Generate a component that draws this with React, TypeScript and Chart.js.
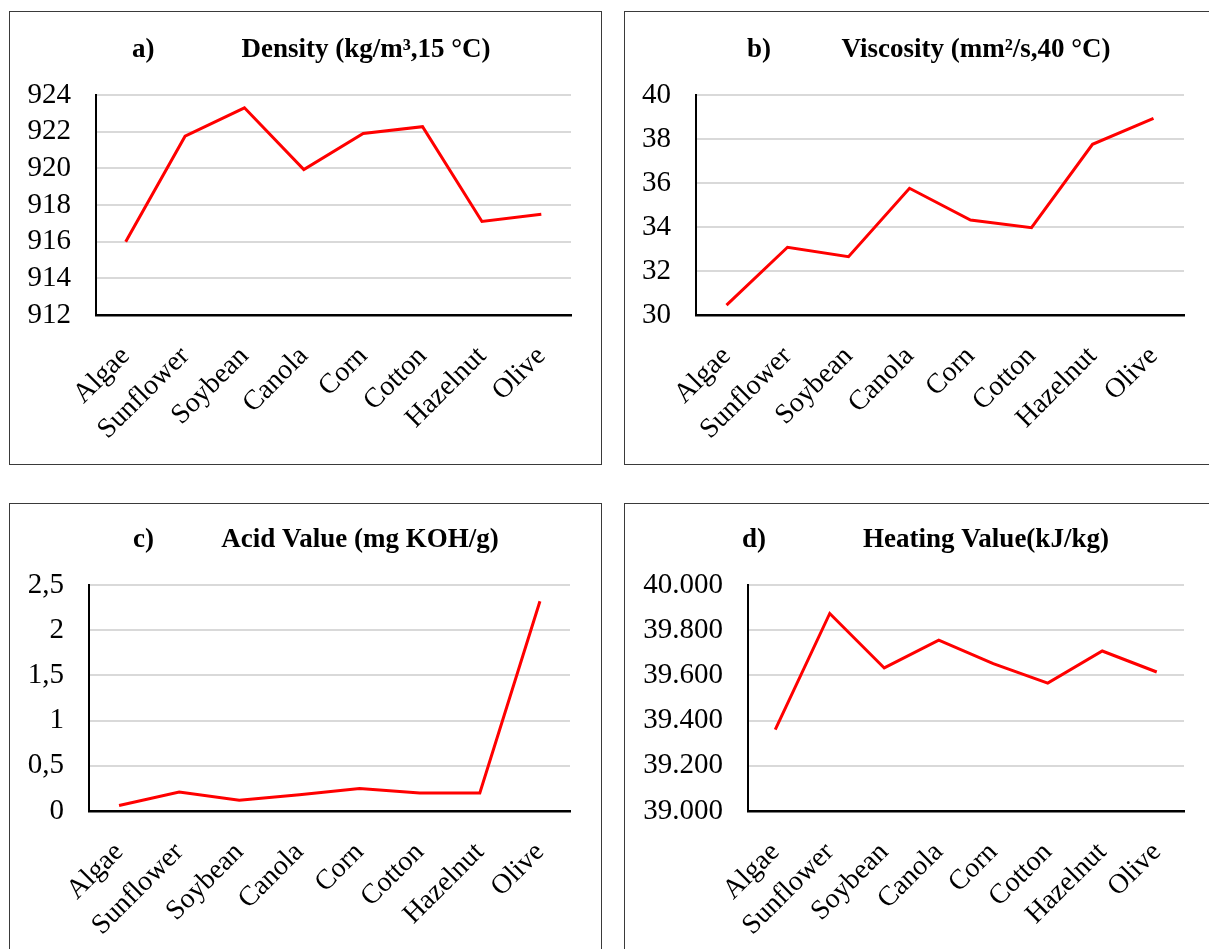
import React, { useEffect, useRef } from "react";
import { Chart, registerables } from "chart.js";

Chart.register(...registerables);

const categories = ["Algae", "Sunflower", "Soybean", "Canola", "Corn", "Cotton", "Hazelnut", "Olive"];
const densityValues = [916.0, 921.75, 923.3, 919.93, 921.9, 922.27, 917.1, 917.5];
const viscosityValues = [30.45, 33.08, 32.65, 35.76, 34.32, 33.97, 37.76, 38.94];
const acidValues = [0.06, 0.21, 0.12, 0.18, 0.25, 0.2, 0.2, 2.32];
const heatingValues = [39360, 39874, 39633, 39756, 39652, 39566, 39708, 39615];

const FONT = "'Liberation Serif', 'Times New Roman', serif";

const fmtInt = (v: number) => String(Math.round(v));
const fmtComma = (v: number) => String(Math.round(v * 10) / 10).replace(".", ",");
const fmtThousands = (v: number) => {
  const s = String(Math.round(v));
  return s.replace(/\B(?=(\d{3})+(?!\d))/g, ".");
};

type PanelDef = {
  letter: string;
  title: string;
  values: number[];
  min: number;
  max: number;
  step: number;
  fmt: (v: number) => string;
  box: { x: number; y: number; w: number; h: number };
  area: { l: number; r: number; t: number; b: number };
  letterX: number;
  titleX: number;
  titleY: number;
};

const panels: PanelDef[] = [
  {
    letter: "a)",
    title: "Density (kg/m³,15 °C)",
    values: densityValues,
    min: 912,
    max: 924,
    step: 2,
    fmt: fmtInt,
    box: { x: 9, y: 11, w: 593, h: 454 },
    area: { l: 96, r: 571, t: 95, b: 315 },
    letterX: 122,
    titleX: 356,
    titleY: 38,
  },
  {
    letter: "b)",
    title: "Viscosity (mm²/s,40 °C)",
    values: viscosityValues,
    min: 30,
    max: 40,
    step: 2,
    fmt: fmtInt,
    box: { x: 624, y: 11, w: 600, h: 454 },
    area: { l: 696, r: 1184, t: 95, b: 315 },
    letterX: 122,
    titleX: 351,
    titleY: 38,
  },
  {
    letter: "c)",
    title: "Acid Value (mg KOH/g)",
    values: acidValues,
    min: 0,
    max: 2.5,
    step: 0.5,
    fmt: fmtComma,
    box: { x: 9, y: 503, w: 593, h: 460 },
    area: { l: 89, r: 570, t: 585, b: 811 },
    letterX: 123,
    titleX: 350,
    titleY: 36,
  },
  {
    letter: "d)",
    title: "Heating Value(kJ/kg)",
    values: heatingValues,
    min: 39000,
    max: 40000,
    step: 200,
    fmt: fmtThousands,
    box: { x: 624, y: 503, w: 600, h: 460 },
    area: { l: 748, r: 1184, t: 585, b: 811 },
    letterX: 117,
    titleX: 361,
    titleY: 36,
  },
];

function PanelChart({ p }: { p: PanelDef }) {
  const ref = useRef<HTMLCanvasElement | null>(null);
  const cw = p.box.w - 2;
  const ch = p.box.h - 2;
  const ox = p.box.x + 1;
  const oy = p.box.y + 1;

  useEffect(() => {
    if (!ref.current) return;
    const titlePlugin = {
      id: "panelTitle",
      afterDraw(chart: any) {
        const ctx = chart.ctx;
        ctx.save();
        ctx.fillStyle = "#000";
        ctx.font = `bold 27px ${FONT}`;
        ctx.textBaseline = "middle";
        ctx.textAlign = "left";
        ctx.fillText(p.letter, p.letterX, p.titleY);
        ctx.textAlign = "center";
        ctx.fillText(p.title, p.titleX, p.titleY);
        ctx.restore();
      },
    };
    const chart = new Chart(ref.current, {
      type: "line",
      data: {
        labels: categories,
        datasets: [
          {
            data: p.values,
            borderColor: "#FF0000",
            borderWidth: 3,
            pointRadius: 0,
            tension: 0,
            fill: false,
          },
        ],
      },
      options: {
        animation: false,
        responsive: false,
        devicePixelRatio: 1,
        layout: {
          padding: {
            left: 0,
            top: p.area.t - oy,
            right: cw - (p.area.r - ox),
            bottom: 0,
          },
        },
        plugins: {
          legend: { display: false },
          tooltip: { enabled: false },
          title: { display: false },
        },
        scales: {
          x: {
            type: "category",
            offset: true,
            grid: { display: false, drawTicks: false },
            border: { display: true, color: "#000", width: 2.5 },
            ticks: {
              color: "#000",
              font: { family: FONT, size: 28 },
              maxRotation: 45,
              minRotation: 45,
              autoSkip: false,
              padding: 25,
            },
            afterFit: (s: any) => {
              s.height = ch - (p.area.b - oy);
            },
          },
          y: {
            min: p.min,
            max: p.max,
            grid: { color: "#d9d9d9", lineWidth: 2, drawTicks: false },
            border: { display: true, color: "#000", width: 2 },
            ticks: {
              stepSize: p.step,
              autoSkip: false,
              color: "#000",
              font: { family: FONT, size: 29 },
              padding: 25,
              callback: (v: any) => p.fmt(Number(v)),
            },
            afterFit: (s: any) => {
              s.width = p.area.l - ox;
            },
          },
        },
      },
      plugins: [titlePlugin],
    });
    return () => chart.destroy();
  }, []);

  return (
    <div
      style={{
        position: "absolute",
        left: p.box.x,
        top: p.box.y,
        width: p.box.w - 2,
        height: p.box.h - 2,
        border: "1px solid #3a3a3a",
        background: "#fff",
      }}
    >
      <canvas ref={ref} width={cw} height={ch} style={{ display: "block", width: cw, height: ch }} />
    </div>
  );
}

export default function App() {
  return (
    <div
      style={{
        position: "fixed",
        left: 0,
        top: 0,
        width: 1209,
        height: 949,
        overflow: "hidden",
        background: "#fff",
      }}
    >
      {panels.map((p, i) => (
        <PanelChart key={i} p={p} />
      ))}
    </div>
  );
}
